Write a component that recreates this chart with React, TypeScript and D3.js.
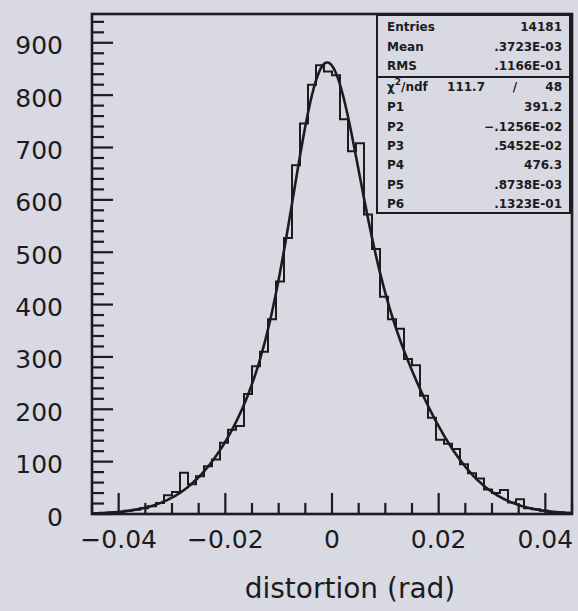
import React from 'react';
import * as d3 from 'd3';

// Histogram bin contents (60 bins from -0.045 to 0.045, width 0.0015)
const counts = [
  1, 2, 3, 4, 6, 8, 11, 15, 21, 36,
  42, 79, 57, 72, 91, 104, 136, 161, 168, 229,
  282, 310, 372, 444, 527, 666, 746, 820, 857, 845,
  838, 754, 693, 708, 572, 506, 415, 372, 354, 296,
  284, 226, 184, 142, 134, 124, 95, 78, 68, 47,
  40, 46, 22, 28, 11, 9, 6, 4, 3, 2,
];
const binStart = -0.045;
const binWidth = 0.0015;

// Double-Gaussian fit parameters (from the stats box)
const fitParams = [391.2, -0.1256e-2, 0.5452e-2, 476.3, 0.8738e-3, 0.1323e-1];

const xMajorTicks = [-0.04, -0.02, 0, 0.02, 0.04];
const xTickLabels = ['\u22120.04', '\u22120.02', '0', '0.02', '0.04'];
const yMajorTicks = [0, 100, 200, 300, 400, 500, 600, 700, 800, 900];
const yTickLabels = ['0', '100', '200', '300', '400', '500', '600', '700', '800', '900'];

const statsTopLabels = ['Entries', 'Mean', 'RMS'];
const statsTopValues = ['14181', '.3723E-03', '.1166E-01'];
const chi2Value = '111.7';
const ndfValue = '48';
const statsFitLabels = ['P1', 'P2', 'P3', 'P4', 'P5', 'P6'];
const statsFitValues = ['391.2', '\u2212.1256E-02', '.5452E-02', '476.3', '.8738E-03', '.1323E-01'];

const xTitle = 'distortion (rad)';

const INK = '#1c1c1e';
const BG = '#d9d9e3';

export default function App() {
  const W = 578, H = 611;
  const L = 92, R = 572, T = 14, B = 514;
  const x = d3.scaleLinear().domain([-0.045, 0.045]).range([L, R]);
  const y = d3.scaleLinear().domain([0, 955]).range([B, T]);

  const pts: [number, number][] = [[binStart, 0]];
  counts.forEach((c, i) => pts.push([binStart + i * binWidth, c]));
  pts.push([binStart + counts.length * binWidth, counts[counts.length - 1]]);
  const histPath = d3.line<[number, number]>()
    .x(d => x(d[0])).y(d => y(d[1]))
    .curve(d3.curveStepAfter)(pts) || '';

  const [p1, p2, p3, p4, p5, p6] = fitParams;
  const f = (v: number) =>
    p1 * Math.exp(-0.5 * ((v - p2) / p3) ** 2) + p4 * Math.exp(-0.5 * ((v - p5) / p6) ** 2);
  const fitPts = d3.range(-0.045, 0.04501, 0.00025).map(v => [v, f(v)] as [number, number]);
  const fitPath = d3.line<[number, number]>()
    .x(d => x(d[0])).y(d => y(d[1]))
    .curve(d3.curveMonotoneX)(fitPts) || '';

  const xMinor = d3.range(-0.045, 0.04501, 0.005).filter(v => !xMajorTicks.some(m => Math.abs(m - v) < 1e-9));
  const yAll = d3.range(0, 955, 20);

  const boxL = 377, boxR = 570, boxT = 15, boxDiv = 77, boxB = 213;
  const labX = 387, valX = 562;
  const topRows = [27, 47, 66];
  const fitRows = [107, 127, 146, 165, 185, 204];

  return (
    <div style={{ position: 'absolute', left: 0, top: 0, width: W, height: H, background: BG }}>
      <svg width={W} height={H} style={{ display: 'block' }}>
        <rect x={0} y={0} width={W} height={H} fill={BG} />
        {/* ticks */}
        <g stroke={INK} strokeWidth={2.2}>
          {yAll.map(v => (
            <line key={'y' + v} x1={L} x2={L + (v % 100 === 0 ? 21 : 12)} y1={y(v)} y2={y(v)} />
          ))}
          {xMajorTicks.map(v => (
            <line key={'xm' + v} x1={x(v)} x2={x(v)} y1={B} y2={B - 21} />
          ))}
          {xMinor.map(v => (
            <line key={'xn' + v} x1={x(v)} x2={x(v)} y1={B} y2={B - 11} />
          ))}
        </g>
        {/* histogram */}
        <path d={histPath} fill="none" stroke={INK} strokeWidth={2} strokeLinejoin="miter" />
        {/* fit */}
        <path d={fitPath} fill="none" stroke={INK} strokeWidth={2.6} />
        {/* frame */}
        <rect x={L} y={T} width={R - L} height={B - T} fill="none" stroke={INK} strokeWidth={2.6} />
        {/* tick labels */}
        <g fontFamily="DejaVu Sans, sans-serif" fontSize={25} fill={INK}>
          {yMajorTicks.map((v, i) => (
            <text key={'yl' + v} x={63} y={y(v) + 3} textAnchor="end" dominantBaseline="central">{yTickLabels[i]}</text>
          ))}
          {xMajorTicks.map((v, i) => (
            <text key={'xl' + v} x={x(v)} y={548} textAnchor="middle">{xTickLabels[i]}</text>
          ))}
        </g>
        <text x={350} y={598} textAnchor="middle" fontFamily="DejaVu Sans, sans-serif" fontSize={28} fill={INK}>{xTitle}</text>
        {/* stats box */}
        <rect x={boxL} y={boxT} width={boxR - boxL} height={boxB - boxT} fill={BG} stroke={INK} strokeWidth={2} />
        <line x1={boxL} x2={boxR} y1={boxDiv} y2={boxDiv} stroke={INK} strokeWidth={2} />
        <g fontFamily="DejaVu Sans, sans-serif" fontSize={12} fontWeight="bold" fill={INK} dominantBaseline="central">
          {statsTopLabels.map((s, i) => (
            <text key={'sl' + i} x={labX} y={topRows[i]}>{s}</text>
          ))}
          {statsTopValues.map((s, i) => (
            <text key={'sv' + i} x={valX} y={topRows[i]} textAnchor="end">{s}</text>
          ))}
          <text x={labX} y={87}>χ<tspan dy={-5} fontSize={9}>2</tspan><tspan dy={5}>/ndf</tspan></text>
          <text x={485} y={87} textAnchor="end">{chi2Value}</text>
          <text x={515} y={87} textAnchor="middle">/</text>
          <text x={valX} y={87} textAnchor="end">{ndfValue}</text>
          {statsFitLabels.map((s, i) => (
            <text key={'fl' + i} x={labX} y={fitRows[i]}>{s}</text>
          ))}
          {statsFitValues.map((s, i) => (
            <text key={'fv' + i} x={valX} y={fitRows[i]} textAnchor="end">{s}</text>
          ))}
        </g>
      </svg>
    </div>
  );
}
